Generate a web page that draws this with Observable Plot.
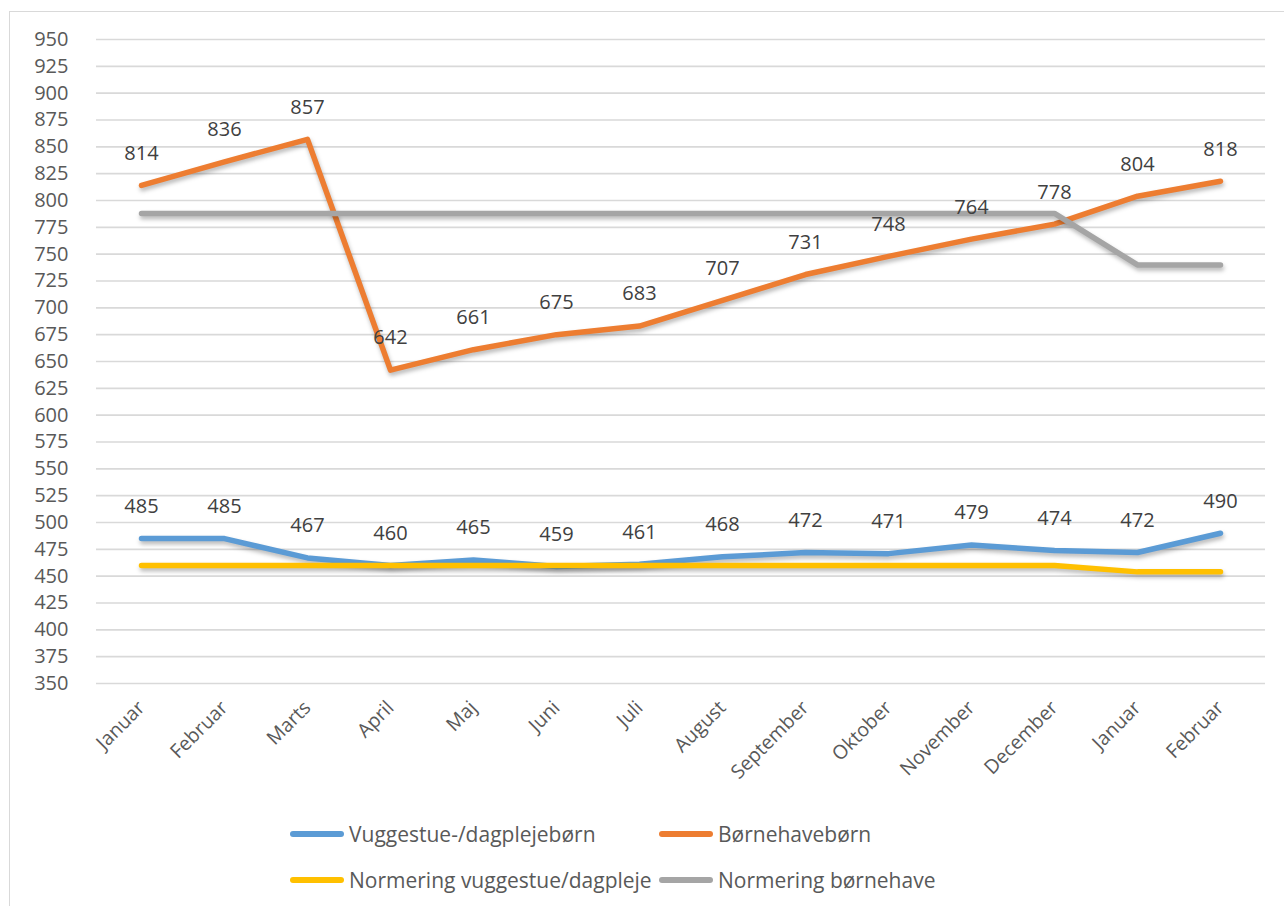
<!DOCTYPE html>
<html>
<head>
<meta charset="utf-8">
<script src="https://cdn.jsdelivr.net/npm/d3@7"></script>
<script src="https://cdn.jsdelivr.net/npm/@observablehq/plot@0.6"></script>
<style>
  html, body { margin: 0; padding: 0; background: #fff; }
  body { width: 1284px; height: 906px; overflow: hidden; position: relative; font-family: "Open Sans", sans-serif; }
  #frame { position: absolute; left: 9px; top: 11px; width: 1300px; height: 920px; border: 1.5px solid #d9d9d9; box-sizing: border-box; }
  #chart { position: absolute; left: 0; top: 0; }
  #chart g[aria-label="line"] path { filter: drop-shadow(1px 3px 2px rgba(0,0,0,0.28)); }
  .leg { position: absolute; display: flex; align-items: center; font-size: 21px; color: #595959; white-space: nowrap; }
  .leg .sw { width: 54px; height: 6px; border-radius: 3px; margin-right: 5px; }
</style>
</head>
<body>
<div id="frame"></div>
<div id="chart"></div>
<div id="legend"></div>
<script>
const months = ["Januar","Februar","Marts","April","Maj","Juni","Juli","August","September","Oktober","November","December","Januar","Februar"];
const vugge = [485,485,467,460,465,459,461,468,472,471,479,474,472,490];
const born = [814,836,857,642,661,675,683,707,731,748,764,778,804,818];
const normVugge = [460,460,460,460,460,460,460,460,460,460,460,460,454,454];
const normBorn = [788,788,788,788,788,788,788,788,788,788,788,788,740,740];
const series = ["Vuggestue-/dagplejebørn","Børnehavebørn","Normering vuggestue/dagpleje","Normering børnehave"];
const colors = ["#5b9bd5","#ed7d31","#ffc000","#a5a5a5"];
const yTicks = d3.range(350, 951, 25);

const rows = [];
[vugge, born, normVugge, normBorn].forEach((arr, s) =>
  arr.forEach((v, i) => rows.push({i, v, s: series[s]})));
const labelRows = rows.filter(d => d.s === series[0] || d.s === series[1]);

const chart = Plot.plot({
  width: 1284,
  height: 810,
  marginTop: 39,
  marginBottom: 127,
  marginLeft: 96,
  marginRight: 19,
  style: {fontFamily: "'Open Sans', sans-serif", color: "#595959", background: "transparent"},
  x: {type: "point", domain: d3.range(14), padding: 0.5},
  y: {domain: [350, 950]},
  color: {domain: series, range: colors},
  marks: [
    Plot.gridY(yTicks, {stroke: "#d9d9d9", strokeOpacity: 1, strokeWidth: 1.6}),
    Plot.axisY({ticks: yTicks, tickSize: 0, tickPadding: 28, fontSize: 20, label: null}),
    Plot.axisX({tickFormat: i => months[i], tickRotate: -45, tickSize: 0, tickPadding: 21, fontSize: 19.5, label: null}),
    Plot.lineY(rows, {x: "i", y: "v", z: "s", stroke: "s", strokeWidth: 5.5, strokeLinecap: "round", strokeLinejoin: "round"}),
    Plot.text(labelRows, {x: "i", y: "v", text: d => String(d.v), dy: -32, fontSize: 20, fill: "#404040"})
  ]
});
document.getElementById("chart").appendChild(chart);

const legPos = [[290, 834], [659, 834], [290, 880], [659, 880]];
const leg = document.getElementById("legend");
series.forEach((name, k) => {
  const el = document.createElement("div");
  el.className = "leg";
  el.style.left = legPos[k][0] + "px";
  el.style.top = (legPos[k][1] - 15) + "px";
  el.style.height = "30px";
  const sw = document.createElement("div");
  sw.className = "sw";
  sw.style.background = colors[k];
  el.appendChild(sw);
  const t = document.createElement("span");
  t.textContent = name;
  el.appendChild(t);
  leg.appendChild(el);
});
</script>
</body>
</html>
